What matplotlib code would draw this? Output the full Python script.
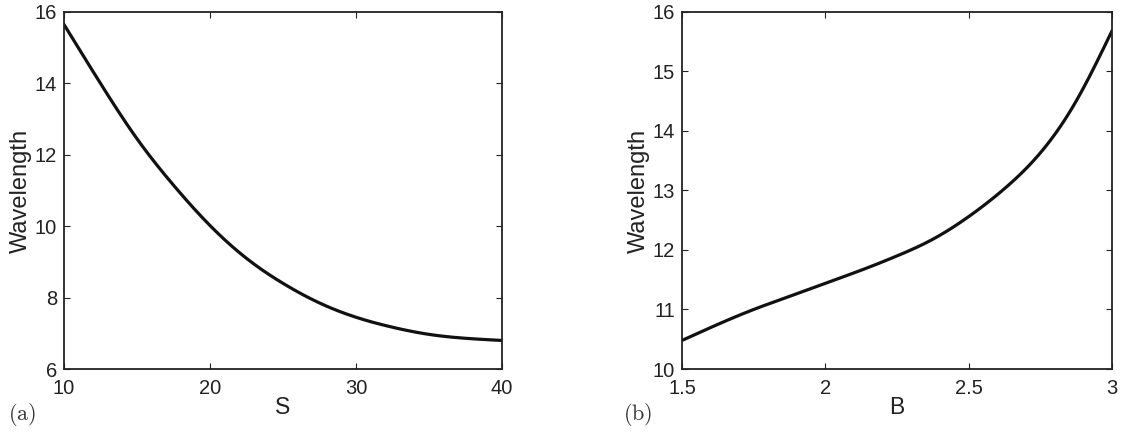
import numpy as np
from matplotlib import pyplot as plt

plt.rcParams["font.family"] = ["Liberation Sans", "DejaVu Sans"]
plt.rcParams["mathtext.fontset"] = "cm"

# panel (a): wavelength vs S
s_vals = [10, 12.5, 15, 17.5, 20, 22.5, 25, 27.5, 30, 32.5, 35, 37.5, 40]
wl_s = [15.65, 14.0, 12.45, 11.15, 10.02, 9.1, 8.4, 7.85, 7.45, 7.17, 6.97, 6.86, 6.8]

# panel (b): wavelength vs B
b_vals = [1.5, 1.625, 1.75, 1.875, 2.0, 2.125, 2.25, 2.375, 2.5, 2.625, 2.75, 2.875, 3.0]
wl_b = [10.48, 10.75, 11.0, 11.22, 11.44, 11.66, 11.9, 12.18, 12.56, 13.03, 13.63, 14.5, 15.68]


def smooth(x, y, n=300):
    # natural cubic spline through the read points, only for a smooth line
    x = np.asarray(x, float)
    y = np.asarray(y, float)
    h = np.diff(x)
    m = len(x)
    A = np.zeros((m, m))
    r = np.zeros(m)
    A[0, 0] = A[-1, -1] = 1
    for i in range(1, m - 1):
        A[i, i - 1] = h[i - 1]
        A[i, i] = 2 * (h[i - 1] + h[i])
        A[i, i + 1] = h[i]
        r[i] = 6 * ((y[i + 1] - y[i]) / h[i] - (y[i] - y[i - 1]) / h[i - 1])
    M = np.linalg.solve(A, r)
    xs = np.linspace(x[0], x[-1], n)
    k = np.clip(np.searchsorted(x, xs) - 1, 0, m - 2)
    t1 = x[k + 1] - xs
    t0 = xs - x[k]
    hk = h[k]
    ys = (M[k] * t1**3 + M[k + 1] * t0**3) / (6 * hk) \
        + (y[k] / hk - M[k] * hk / 6) * t1 + (y[k + 1] / hk - M[k + 1] * hk / 6) * t0
    return xs, ys


fig = plt.figure(figsize=(11.3, 4.37), dpi=100)
ax1 = fig.add_axes([0.0566, 0.1556, 0.3876, 0.817])
ax2 = fig.add_axes([0.6035, 0.1556, 0.3805, 0.817])

for ax, x, y, xl, xt, yt, tag, tx in [
    (ax1, s_vals, wl_s, "S", [10, 20, 30, 40], [6, 8, 10, 12, 14, 16], "(a)", 0.007),
    (ax2, b_vals, wl_b, "B", [1.5, 2, 2.5, 3], [10, 11, 12, 13, 14, 15, 16], "(b)", 0.551),
]:
    xs, ys = smooth(x, y)
    ax.plot(xs, ys, "-", color="#111111", lw=2.3)
    ax.set_xlim(xt[0], xt[-1])
    ax.set_ylim(yt[0], yt[-1])
    ax.set_xticks(xt)
    ax.set_yticks(yt)
    ax.set_xticklabels([("%g" % v) for v in xt])
    ax.tick_params(direction="in", top=True, right=True, length=4, width=0.8,
                   labelsize=14.5, pad=5, colors="#222222")
    ax.tick_params(axis="x", pad=7)
    for sp in ax.spines.values():
        sp.set_linewidth(1.3)
        sp.set_color("#222222")
    ax.set_xlabel(xl, fontsize=16.5, labelpad=-1, color="#222222")
    ax.set_ylabel("Wavelength", fontsize=17, labelpad=2, color="#222222")
    fig.text(tx, 0.04, r"$\mathrm{%s}$" % tag, fontsize=16, color="#333333")

fig.savefig("out.png", dpi=100)
